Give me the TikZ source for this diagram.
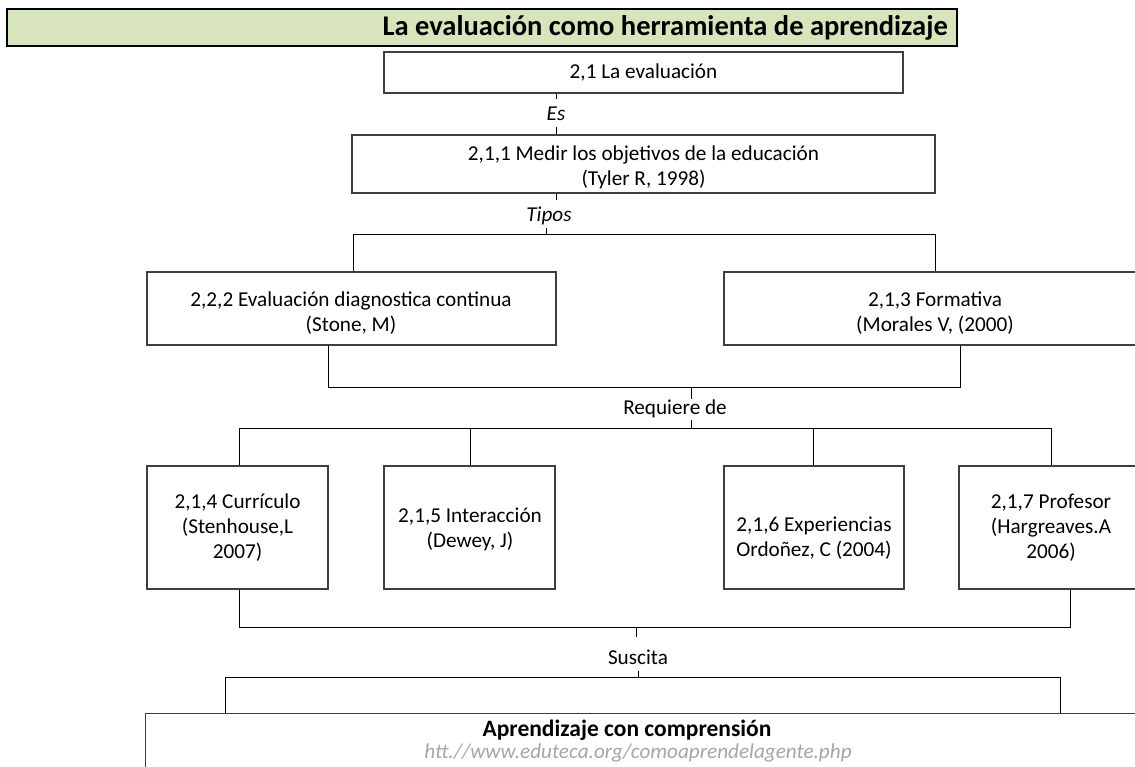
\documentclass[tikz,border=0pt]{standalone}
\usepackage{fontspec}
\setmainfont{Carlito}
\definecolor{titlegreen}{HTML}{D8E4BC}
\definecolor{urlgray}{HTML}{A6A6A6}
\definecolor{boxline}{HTML}{3F3F3F}
\begin{document}
\begin{tikzpicture}[x=1pt,y=-1pt,
  every node/.style={font=\fontsize{21.2}{25}\selectfont},
  box/.style={draw=boxline,line width=1.4pt,fill=white,align=center,inner sep=0pt},
  txt/.style={align=center,inner sep=0pt},
  conn/.style={draw=black,line width=1pt}]
\useasboundingbox (0,0) rectangle (1135,767);
\clip (0,0) rectangle (1135,767);
% title
\node[draw=black,line width=2.4pt,fill=titlegreen,minimum width=950pt,minimum height=37pt,inner sep=0pt] (title) at (482,27.5) {};
\node[anchor=east,inner sep=0pt,font=\fontsize{28.5}{30}\selectfont\bfseries] (titletxt) at (948,28) {La evaluación como herramienta de aprendizaje};
% boxes
\node[box,minimum width=519pt,minimum height=41pt] (b1) at (643.5,72.5) {2,1 La evaluación};
\node[txt,font=\fontsize{21.2}{25}\selectfont\itshape] (es) at (556,114) {Es};
\node[box,minimum width=583pt,minimum height=58pt] (b2) at (643.5,164) {};
\node[txt] (b2t) at (643.5,167) {2,1,1 Medir los objetivos de la educación\\(Tyler R, 1998)};
\node[txt,font=\fontsize{21.2}{25}\selectfont\itshape] (tipos) at (549,216) {Tipos};
\node[box,minimum width=409pt,minimum height=73pt] (b3) at (351.5,308.5) {};
\node[txt] (b3t) at (351,313) {2,2,2 Evaluación diagnostica continua\\(Stone, M)};
\node[box,minimum width=422pt,minimum height=73pt] (b4) at (935,308.5) {};
\node[txt] (b4t) at (935,313) {2,1,3 Formativa\\(Morales V, (2000)};
\node[txt] (req) at (675,409) {Requiere de};
\node[box,minimum width=181pt,minimum height=123pt] (c1) at (237.5,527.5) {2,1,4 Currículo\\(Stenhouse,L\\2007)};
\node[box,minimum width=171pt,minimum height=123pt] (c2) at (469.5,527.5) {};
\node[txt] (c2t) at (470,529) {2,1,5 Interacción\\(Dewey, J)};
\node[box,minimum width=180pt,minimum height=123pt] (c3) at (814,527.5) {};
\node[txt] (c3t) at (814,538) {2,1,6 Experiencias\\Ordoñez, C (2004)};
\node[box,minimum width=184pt,minimum height=123pt] (c4) at (1051,527.5) {2,1,7 Profesor\\(Hargreaves.A\\2006)};
\node[txt] (susc) at (638,657) {Suscita};
\node[box,minimum width=1015pt,minimum height=90pt,anchor=north west] (big) at (145,713) {};
\node[txt,font=\fontsize{23.5}{25}\selectfont\bfseries] (bigt) at (627,730) {Aprendizaje con comprensión};
\node[txt,font=\fontsize{21.2}{25}\selectfont\itshape,text=urlgray] (url) at (638,753) {htt.//www.eduteca.org/comoaprendelagente.php};
% junction and line-end coordinates
\coordinate (esT) at (556,99);   \coordinate (esB) at (556,127);
\coordinate (tpT) at (556,200);  \coordinate (tpB) at (546,228);
\coordinate (j1L) at (353,235);  \coordinate (j1R) at (935,235);
\coordinate (j2L) at (328,387);  \coordinate (j2R) at (960,387);
\coordinate (rqT) at (691,399);  \coordinate (rqB) at (691,420);
\coordinate (j3a) at (239,428);  \coordinate (j3b) at (470,428);
\coordinate (j3c) at (813,428);  \coordinate (j3d) at (1051,428);
\coordinate (j4L) at (239,627);  \coordinate (j4R) at (1070,627);
\coordinate (suT) at (636,637);  \coordinate (suB) at (638,671);
\coordinate (j5L) at (225,677);  \coordinate (j5R) at (1060,677);
% connectors
\draw[conn] (b1.south -| esT) -- (esT);
\draw[conn] (esB) -- (esB |- b2.north);
\draw[conn] (b2.south -| tpT) -- (tpT);
\draw[conn] (tpB) -- (tpB |- j1L);
\draw[conn] (j1L |- b3.north) -- (j1L) -- (j1R) -- (j1R |- b4.north);
\draw[conn] (b3.south -| j2L) -- (j2L) -- (j2R) -- (b4.south -| j2R);
\draw[conn] (rqT |- j2L) -- (rqT);
\draw[conn] (rqB) -- (rqB |- j3a);
\draw[conn] (j3a |- c1.north) -- (j3a) -- (j3d) -- (j3d |- c4.north);
\draw[conn] (j3b) -- (j3b |- c2.north);
\draw[conn] (j3c) -- (j3c |- c3.north);
\draw[conn] (c1.south -| j4L) -- (j4L) -- (j4R) -- (c4.south -| j4R);
\draw[conn] (suT |- j4L) -- (suT);
\draw[conn] (suB) -- (suB |- j5L);
\draw[conn] (j5L |- big.north) -- (j5L) -- (j5R) -- (j5R |- big.north);
\end{tikzpicture}
\end{document}
